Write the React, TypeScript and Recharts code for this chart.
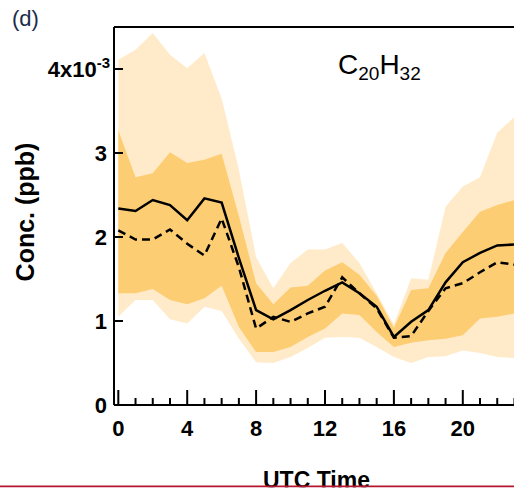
import React from 'react';
import { ComposedChart, Area, Line, XAxis, YAxis, ReferenceLine } from 'recharts';

// concentrations in units of 1e-3 ppb, hourly (UTC)
const hours = [0, 1, 2, 3, 4, 5, 6, 7, 8, 9, 10, 11, 12, 13, 14, 15, 16, 17, 18, 19, 20, 21, 22, 23];
const meanConc = [2.34, 2.31, 2.44, 2.38, 2.2, 2.46, 2.41, 1.75, 1.13, 1.02, 1.13, 1.25, 1.36, 1.46, 1.33, 1.17, 0.81, 0.99, 1.13, 1.46, 1.7, 1.81, 1.9, 1.91];
const medianConc = [2.08, 1.97, 1.97, 2.09, 1.92, 1.78, 2.22, 1.64, 0.91, 1.05, 0.99, 1.09, 1.17, 1.52, 1.33, 1.15, 0.8, 0.82, 1.12, 1.39, 1.45, 1.58, 1.7, 1.67];
const p25 = [1.33, 1.33, 1.38, 1.25, 1.2, 1.27, 1.42, 0.93, 0.63, 0.63, 0.69, 0.81, 0.91, 1.09, 1.07, 0.87, 0.69, 0.74, 0.77, 0.79, 0.83, 1.03, 1.05, 1.09];
const p75 = [3.27, 2.71, 2.76, 3.01, 2.88, 2.92, 2.99, 2.25, 1.45, 1.2, 1.4, 1.42, 1.6, 1.7, 1.55, 1.3, 0.92, 1.37, 1.39, 1.81, 2.06, 2.3, 2.38, 2.44];
const p10 = [1.05, 1.25, 1.25, 1.02, 0.97, 1.17, 1.12, 0.79, 0.51, 0.5, 0.57, 0.68, 0.8, 0.81, 0.8, 0.69, 0.57, 0.5, 0.57, 0.58, 0.65, 0.62, 0.57, 0.56];
const p90 = [4.11, 4.23, 4.43, 4.17, 4.01, 4.19, 3.65, 2.8, 1.76, 1.39, 1.69, 1.85, 1.85, 1.93, 1.69, 1.33, 0.96, 1.51, 1.49, 2.36, 2.6, 2.71, 3.24, 3.43];

const xTicks = [0, 1, 2, 3, 4, 5, 6, 7, 8, 9, 10, 11, 12, 13, 14, 15, 16, 17, 18, 19, 20, 21, 22, 23, 24];
const xLabels = [0, 4, 8, 12, 16, 20];
const yTicks = [0, 1, 2, 3, 4];

const chartData = hours.map((h, i) => ({
  hour: h,
  outer: [p10[i], p90[i]],
  inner: [p25[i], p75[i]],
  mean: meanConc[i],
  median: medianConc[i],
}));

const FONT = '"Liberation Sans", Arial, sans-serif';

const XTick = (props: any) => {
  const { x, y, payload } = props;
  const major = payload.value % 4 === 0;
  return (
    <g>
      <line x1={x} x2={x} y1={y} y2={y - (major ? 15 : 7)} stroke="#000" strokeWidth={2} />
      {xLabels.includes(payload.value) && (
        <text x={x} y={y + 31} textAnchor="middle" fontFamily={FONT} fontWeight="bold" fontSize={22} fill="#000">
          {payload.value}
        </text>
      )}
    </g>
  );
};

const YTick = (props: any) => {
  const { x, y, payload } = props;
  const v = payload.value;
  return (
    <g>
      <line x1={x} x2={x + 9} y1={y} y2={y} stroke="#000" strokeWidth={2} />
      {v === 4 ? (
        <text x={x - 4} y={y + 8} textAnchor="end" fontFamily={FONT} fontWeight="bold" fontSize={22} fill="#000">
          4x10<tspan fontSize={15} dy={-9}>-3</tspan>
        </text>
      ) : (
        <text x={x - 7} y={y + 8} textAnchor="end" fontFamily={FONT} fontWeight="bold" fontSize={22} fill="#000">
          {v}
        </text>
      )}
    </g>
  );
};

const App: React.FC = () => {
  return (
    <div style={{ position: 'absolute', left: 0, top: 0, width: 514, height: 495, overflow: 'hidden', background: '#fff' }}>
      <ComposedChart width={560} height={495} data={chartData} margin={{ top: 27, right: 24, left: 0, bottom: 60 }}>
        <XAxis
          dataKey="hour"
          type="number"
          domain={[-0.25, 24.25]}
          ticks={xTicks}
          interval={0}
          tickSize={0}
          tickMargin={0}
          tickLine={false}
          tick={<XTick />}
          axisLine={{ stroke: '#000', strokeWidth: 2 }}
          height={30}
        />
        <YAxis
          type="number"
          domain={[0, 4.5]}
          ticks={yTicks}
          interval={0}
          tickSize={0}
          tickMargin={0}
          tickLine={false}
          tick={<YTick />}
          axisLine={{ stroke: '#000', strokeWidth: 2 }}
          width={114}
        />
        <ReferenceLine y={4.5} stroke="#000" strokeWidth={2} />
        <Area type="linear" dataKey="outer" stroke="none" fill="#FFEBC9" fillOpacity={1} isAnimationActive={false} />
        <Area type="linear" dataKey="inner" stroke="none" fill="#FDCD73" fillOpacity={1} isAnimationActive={false} />
        <Line type="linear" dataKey="median" stroke="#000" strokeWidth={2.5} strokeDasharray="8 5" dot={false} isAnimationActive={false} />
        <Line type="linear" dataKey="mean" stroke="#000" strokeWidth={2.5} dot={false} isAnimationActive={false} />
      </ComposedChart>
      <svg width={514} height={495} style={{ position: 'absolute', left: 0, top: 0, pointerEvents: 'none' }}>
        <text x={12} y={26} fontFamily={FONT} fontSize={22} fill="#1c2c4c">(d)</text>
        <text x={338} y={74} fontFamily={FONT} fontSize={28} fill="#000">
          C<tspan fontSize={19} dy={6}>20</tspan><tspan fontSize={28} dy={-6}>H</tspan><tspan fontSize={19} dy={6}>32</tspan>
        </text>
        <text
          transform="translate(34 212) rotate(-90)"
          textAnchor="middle"
          fontFamily={FONT}
          fontWeight="bold"
          fontSize={25}
          fill="#000"
        >
          Conc. (ppb)
        </text>
        <text x={263} y={488} fontFamily={FONT} fontWeight="bold" fontSize={23} fill="#000">UTC Time</text>
        <rect x={0} y={485.5} width={514} height={2} fill="#B5152F" />
        <rect x={0} y={487.5} width={514} height={8} fill="#fff" />
      </svg>
    </div>
  );
};

export default App;
